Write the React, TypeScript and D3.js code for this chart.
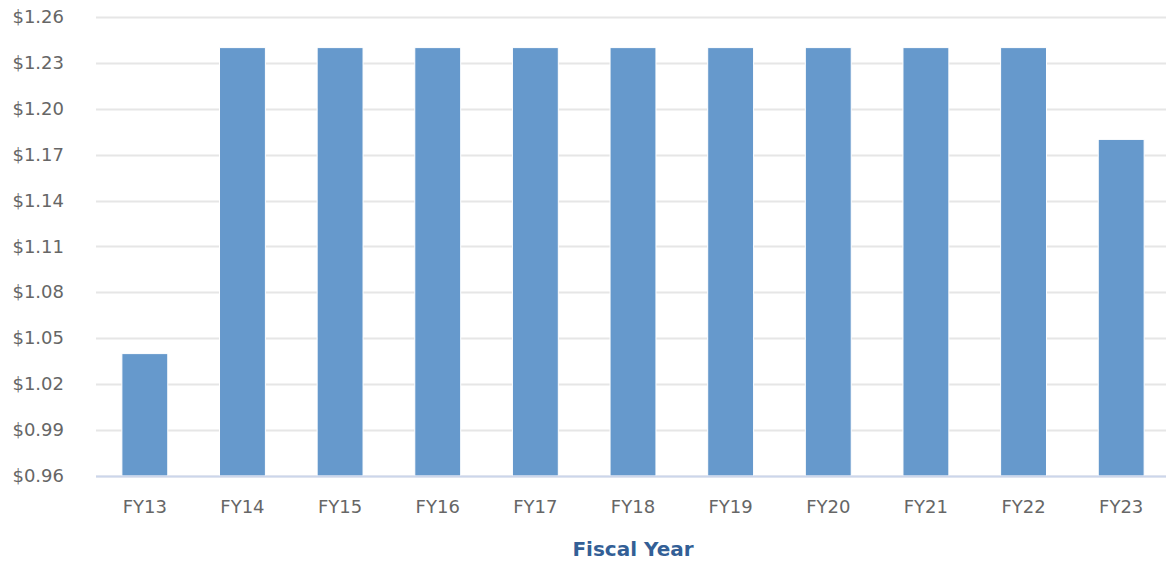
import React, { useEffect, useRef } from 'react'
import * as d3 from 'd3'

// chart data
const years = ['FY13', 'FY14', 'FY15', 'FY16', 'FY17', 'FY18', 'FY19', 'FY20', 'FY21', 'FY22', 'FY23']
const values = [1.04, 1.24, 1.24, 1.24, 1.24, 1.24, 1.24, 1.24, 1.24, 1.24, 1.18]
const yTicks = [0.96, 0.99, 1.02, 1.05, 1.08, 1.11, 1.14, 1.17, 1.20, 1.23, 1.26]
const xTitle = 'Fiscal Year'

const W = 1166
const H = 561

export default function App() {
    const ref = useRef<SVGSVGElement>(null)

    useEffect(() => {
        const svg = d3.select(ref.current)
        svg.selectAll('*').remove()

        const margin = { top: 17, right: -4, bottom: 85, left: 96 }
        const width = W - margin.left - margin.right
        const height = H - margin.top - margin.bottom

        const x = d3.scaleBand().domain(years).range([0, width]).paddingInner(0.53).paddingOuter(0.265)
        const y = d3.scaleLinear().domain([0.96, 1.26]).range([height, 0])

        const g = svg.append('g').attr('transform', `translate(${margin.left},${margin.top})`)

        // grid
        g.append('g')
            .selectAll('line')
            .data(yTicks)
            .enter()
            .append('line')
            .attr('x1', 0)
            .attr('x2', width)
            .attr('y1', d => Math.round(y(d)) + 0.5)
            .attr('y2', d => Math.round(y(d)) + 0.5)
            .attr('stroke', '#e6e6e6')
            .attr('stroke-width', 2)

        // y labels
        g.append('g')
            .selectAll('text')
            .data(yTicks)
            .enter()
            .append('text')
            .attr('x', -32)
            .attr('y', d => y(d) + 6)
            .attr('text-anchor', 'end')
            .attr('font-family', 'DejaVu Sans, sans-serif')
            .attr('font-size', 18)
            .attr('fill', '#666666')
            .text(d => '$' + d.toFixed(2))

        // bars
        g.append('g')
            .selectAll('rect')
            .data(years)
            .enter()
            .append('rect')
            .attr('x', d => x(d))
            .attr('width', x.bandwidth())
            .attr('y', (d, i) => y(values[i]))
            .attr('height', (d, i) => height - y(values[i]))
            .attr('fill', '#6699cc')
            .attr('stroke', '#ffffff')
            .attr('stroke-width', 1)

        // x axis line
        g.append('line')
            .attr('x1', 0)
            .attr('x2', width)
            .attr('y1', height + 0.5)
            .attr('y2', height + 0.5)
            .attr('stroke', '#ccd6eb')
            .attr('stroke-width', 2)

        // x labels
        g.append('g')
            .selectAll('text')
            .data(years)
            .enter()
            .append('text')
            .attr('x', d => x(d) + x.bandwidth() / 2)
            .attr('y', height + 37)
            .attr('text-anchor', 'middle')
            .attr('font-family', 'DejaVu Sans, sans-serif')
            .attr('font-size', 18)
            .attr('fill', '#666666')
            .text(d => d)

        // x title
        g.append('text')
            .attr('x', width / 2)
            .attr('y', height + 80)
            .attr('text-anchor', 'middle')
            .attr('font-family', 'DejaVu Sans, sans-serif')
            .attr('font-size', 20)
            .attr('font-weight', 'bold')
            .attr('fill', '#335f96')
            .text(xTitle)
    }, [])

    return (
        <svg ref={ref} width={W} height={H} style={{ position: 'absolute', left: 0, top: 0 }} />
    )
}
